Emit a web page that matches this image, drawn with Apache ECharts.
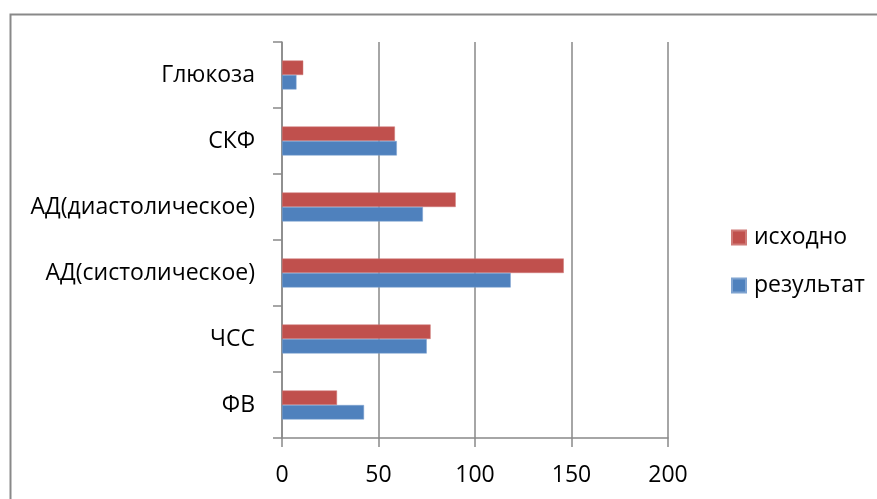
<!DOCTYPE html>
<html>
<head>
<meta charset="utf-8">
<style>
  html, body { margin: 0; padding: 0; background: #ffffff; }
  #chart { width: 877px; height: 499px; }
</style>
<script src="https://cdn.jsdelivr.net/npm/echarts@6/dist/echarts.min.js"></script>
</head>
<body>
<div id="chart"></div>
<script>
// Indicators, listed bottom to top along the category axis
const categories = ['ФВ', 'ЧСС', 'АД(систолическое)', 'АД(диастолическое)', 'СКФ', 'Глюкоза'];

// Baseline measurements
const baselineName = 'исходно';
const baselineValues = [28.5, 77, 146, 90, 58.5, 11];

// Measurements after treatment
const resultName = 'результат';
const resultValues = [42.5, 75, 118.5, 73, 59.5, 7.5];

// Value axis ticks
const axisMin = 0;
const axisMax = 200;
const axisStep = 50;

const FONT = '"Open Sans", "Noto Sans", sans-serif';
const FONT_SIZE = 23;
const GRAY = '#898989';

const chart = echarts.init(document.getElementById('chart'), null, { renderer: 'canvas' });

chart.setOption({
  backgroundColor: '#ffffff',
  animation: false,
  textStyle: { fontFamily: FONT, color: '#000000' },
  graphic: [{
    type: 'rect',
    left: 8, top: 12,
    shape: { width: 920, height: 600 },
    style: { fill: 'none', stroke: GRAY, lineWidth: 2 },
    silent: true
  }],
  grid: { left: 282, right: 209, top: 42, bottom: 61, containLabel: false },
  legend: {
    orient: 'vertical',
    left: 731, top: 226,
    padding: 0,
    itemWidth: 14, itemHeight: 14,
    itemGap: 25,
    icon: 'rect',
    textStyle: { fontFamily: FONT, fontSize: FONT_SIZE, color: '#000000', padding: [0, 0, 0, 3] },
    data: [baselineName, resultName]
  },
  xAxis: {
    type: 'value',
    min: axisMin, max: axisMax, interval: axisStep,
    axisLine: { show: true, lineStyle: { color: GRAY, width: 1.5 } },
    axisTick: { show: true, length: 9, lineStyle: { color: GRAY, width: 1.5 } },
    splitLine: { show: true, lineStyle: { color: GRAY, width: 1.5 } },
    axisLabel: { fontFamily: FONT, fontSize: FONT_SIZE, color: '#000000', margin: 26 }
  },
  yAxis: {
    type: 'category',
    data: categories,
    axisLine: { show: true, lineStyle: { color: GRAY, width: 1.5 } },
    axisTick: { show: true, length: 9, lineStyle: { color: GRAY, width: 1.5 } },
    axisLabel: { fontFamily: FONT, fontSize: FONT_SIZE, color: '#000000', margin: 27 }
  },
  series: [
    {
      name: baselineName,
      type: 'bar',
      data: baselineValues,
      barWidth: 14.5,
      barGap: '0%',
      itemStyle: { color: '#C0504D', borderColor: '#cf7b78', borderWidth: 0.5 }
    },
    {
      name: resultName,
      type: 'bar',
      data: resultValues,
      barWidth: 14.5,
      barGap: '0%',
      itemStyle: { color: '#4F81BD', borderColor: '#7fa3d0', borderWidth: 0.5 }
    }
  ]
});
</script>
</body>
</html>
